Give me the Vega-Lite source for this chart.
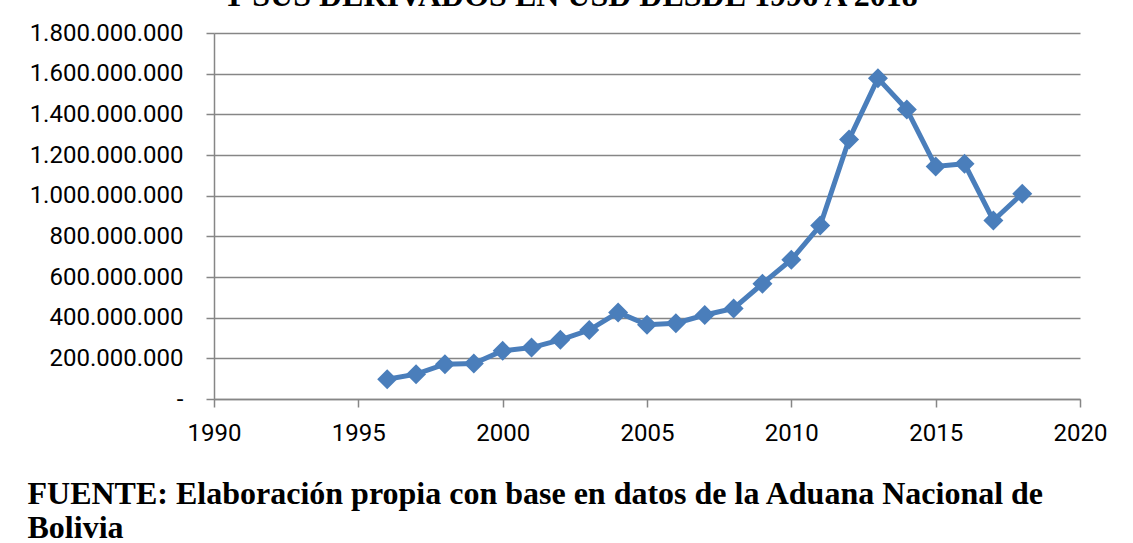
{
  "$schema": "https://vega.github.io/schema/vega-lite/v6.json",
  "width": 866,
  "height": 366,
  "autosize": {"type": "none"},
  "padding": {"left": 214, "top": 33, "right": 53, "bottom": 144},
  "background": "white",
  "config": {
    "view": {"stroke": null},
    "locale": {"number": {"decimal": ",", "thousands": ".", "grouping": [3], "currency": ["", ""]}}
  },
  "title": {
    "text": "Y SUS DERIVADOS EN USD DESDE 1996 A 2018",
    "font": "Liberation Serif",
    "fontWeight": "bold",
    "fontSize": 32,
    "color": "black",
    "anchor": "middle",
    "baseline": "alphabetic",
    "dx": -77,
    "dy": 31,
    "offset": 14
  },
  "data": {
    "values": [
      {"year": 1996, "value": 97000000},
      {"year": 1997, "value": 122000000},
      {"year": 1998, "value": 171000000},
      {"year": 1999, "value": 174000000},
      {"year": 2000, "value": 237000000},
      {"year": 2001, "value": 253000000},
      {"year": 2002, "value": 291000000},
      {"year": 2003, "value": 339000000},
      {"year": 2004, "value": 426000000},
      {"year": 2005, "value": 365000000},
      {"year": 2006, "value": 373000000},
      {"year": 2007, "value": 413000000},
      {"year": 2008, "value": 445000000},
      {"year": 2009, "value": 567000000},
      {"year": 2010, "value": 685000000},
      {"year": 2011, "value": 853000000},
      {"year": 2012, "value": 1276000000},
      {"year": 2013, "value": 1577000000},
      {"year": 2014, "value": 1424000000},
      {"year": 2015, "value": 1144000000},
      {"year": 2016, "value": 1157000000},
      {"year": 2017, "value": 878000000},
      {"year": 2018, "value": 1010000000}
    ]
  },
  "encoding": {
    "x": {
      "field": "year",
      "type": "quantitative",
      "scale": {"domain": [1990, 2020], "nice": false, "zero": false},
      "axis": {
        "values": [1990, 1995, 2000, 2005, 2010, 2015, 2020],
        "format": "d",
        "grid": false,
        "domainColor": "#868686",
        "domainWidth": 1.5,
        "tickColor": "#868686",
        "tickWidth": 1.5,
        "tickSize": 8,
        "labelFont": "Roboto",
        "labelFontSize": 24,
        "labelColor": "black",
        "labelPadding": 14,
        "labelFlush": false,
        "title": ["FUENTE: Elaboración propia con base en datos de la Aduana Nacional de", "Bolivia"],
        "titleX": -187,
        "titleY": 104,
        "titleAlign": "left",
        "titleAnchor": "start",
        "titleBaseline": "alphabetic",
        "titleFont": "Liberation Serif",
        "titleFontWeight": "bold",
        "titleFontSize": 32,
        "titleLineHeight": 34,
        "titleColor": "black"
      }
    },
    "y": {
      "field": "value",
      "type": "quantitative",
      "scale": {"domain": [0, 1800000000], "nice": false},
      "axis": {
        "values": [0, 200000000, 400000000, 600000000, 800000000, 1000000000, 1200000000, 1400000000, 1600000000, 1800000000],
        "format": ",.0f",
        "labelExpr": "datum.value == 0 ? '-' : datum.label",
        "grid": true,
        "gridColor": "#868686",
        "gridWidth": 1.5,
        "domainColor": "#868686",
        "domainWidth": 1.5,
        "tickColor": "#868686",
        "tickWidth": 1.5,
        "tickSize": 8,
        "labelFont": "Roboto",
        "labelFontSize": 24,
        "labelColor": "black",
        "labelPadding": 23,
        "labelFlush": false,
        "title": null
      }
    }
  },
  "layer": [
    {"mark": {"type": "line", "color": "#4A7EBB", "strokeWidth": 5}},
    {"mark": {"type": "point", "shape": "diamond", "filled": true, "color": "#4A7EBB", "size": 400, "opacity": 1}}
  ]
}
